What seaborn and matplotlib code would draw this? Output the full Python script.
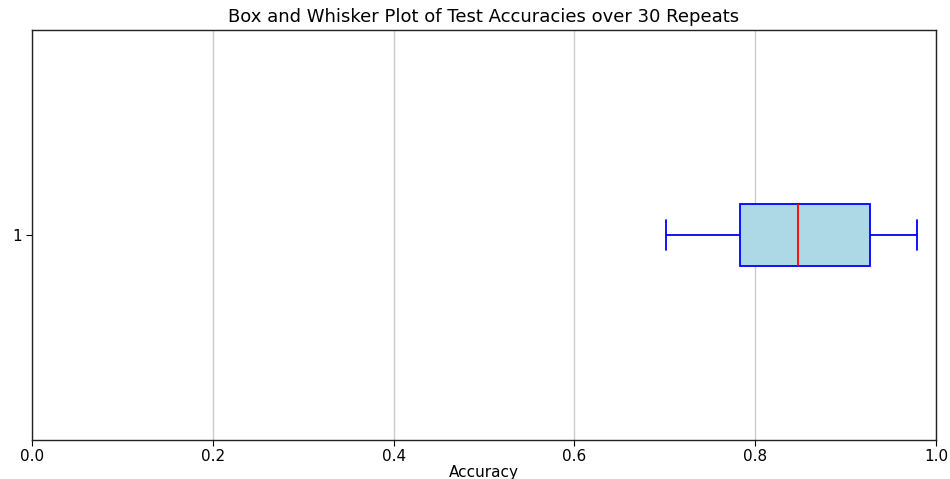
import matplotlib
matplotlib.use("Agg")
import matplotlib.pyplot as plt
import seaborn as sns
import pandas as pd

# Five-number values (min, Q1, median, Q3, max)
accuracies = [0.701, 0.783, 0.847, 0.927, 0.979]
y_tick_labels = ["1"]
x_ticks = [0.0, 0.2, 0.4, 0.6, 0.8, 1.0]

sns.set_style("white", {"text.color": "black", "axes.labelcolor": "black",
                        "xtick.color": "black", "ytick.color": "black",
                        "axes.edgecolor": "black"})
plt.rcParams["font.family"] = ["DejaVu Sans"]

df = pd.DataFrame({"Accuracy": accuracies})

fig = plt.figure(figsize=(9.5, 4.79), dpi=100)
ax = fig.add_axes([32 / 950, 39 / 479, 904 / 950, 410 / 479])

sns.boxplot(
    data=df, x="Accuracy", orient="h", width=0.15, ax=ax,
    boxprops=dict(facecolor="lightblue", edgecolor="blue", linewidth=1.3),
    medianprops=dict(color="red", linewidth=1.3),
    whiskerprops=dict(color="blue", linewidth=1.3),
    capprops=dict(color="blue", linewidth=1.3),
    showfliers=False,
)

ax.set_xlim(0, 1.0)
ax.set_ylim(0.5, -0.5)
ax.set_xticks(x_ticks)
ax.set_xticklabels([f"{t:.1f}" for t in x_ticks], fontsize=11)
ax.set_yticks([0])
ax.set_yticklabels(y_tick_labels, fontsize=11)
ax.set_ylabel("")
ax.set_xlabel("Accuracy", fontsize=11, labelpad=1, color="black")
ax.xaxis.grid(True, color="#cccccc", linewidth=1.0)
ax.set_axisbelow(True)
ax.tick_params(axis="x", direction="out", length=4, width=0.8, pad=2.5, bottom=True, colors="black")
ax.tick_params(axis="y", direction="out", length=4, width=0.8, pad=3.5, left=True, colors="black")
for s in ax.spines.values():
    s.set_color("#222222")
    s.set_linewidth(1.0)
ax.set_title("Box and Whisker Plot of Test Accuracies over 30 Repeats", fontsize=13, pad=6, color="black")

fig.savefig("out.png", dpi=100)
